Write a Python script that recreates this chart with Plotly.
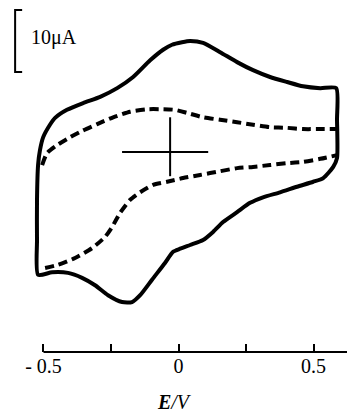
import plotly.graph_objects as go

# Solid cyclic voltammogram (E in V, I in microampere)
solid_E = [-0.520, -0.524, -0.524, -0.520, -0.513, -0.501, -0.476, -0.457, -0.413, -0.353,
           -0.290, -0.227, -0.168, -0.105, -0.057, -0.024, 0.013, 0.043, 0.091, 0.154,
           0.217, 0.276, 0.339, 0.402, 0.461, 0.525, 0.584, 0.587, 0.587, 0.573,
           0.536, 0.499, 0.439, 0.376, 0.313, 0.265, 0.217, 0.165, 0.128, 0.091,
           0.043, 0.006, -0.020, -0.050, -0.098, -0.142, -0.172, -0.209, -0.261, -0.309,
           -0.357, -0.409, -0.468, -0.520]
solid_I = [-19.8, -14.2, -7.7, -2.1, 0.3, 2.4, 4.4, 5.5, 6.8, 7.9,
           8.9, 10.3, 12.1, 14.8, 16.5, 17.3, 17.7, 17.9, 17.6, 16.1,
           14.5, 13.2, 12.1, 11.3, 10.6, 10.3, 10.3, 5.2, -1.0, -2.4,
           -4.2, -4.8, -5.6, -6.5, -7.3, -8.2, -9.7, -11.3, -12.9, -14.2,
           -15.0, -15.6, -16.1, -17.9, -20.6, -23.1, -24.2, -24.2, -23.1, -21.5,
           -20.3, -19.5, -19.4, -19.8]

# Dashed voltammogram, upper and lower branches
dash_up_E = [-0.505, -0.487, -0.450, -0.401, -0.357, -0.301, -0.242, -0.179, -0.116, -0.057,
             -0.013, 0.032, 0.091, 0.154, 0.217, 0.276, 0.339, 0.402, 0.461, 0.525, 0.587]
dash_up_I = [-2.1, -0.2, 1.1, 2.4, 3.4, 4.5, 5.6, 6.5, 6.9, 6.9,
             6.8, 6.3, 5.6, 5.2, 4.8, 4.4, 4.0, 3.9, 3.7, 3.7, 3.7]
dash_lo_E = [-0.494, -0.446, -0.383, -0.320, -0.272, -0.246, -0.216, -0.179, -0.142, -0.094,
             -0.042, 0.017, 0.080, 0.154, 0.217, 0.276, 0.339, 0.402, 0.461, 0.525, 0.587]
dash_lo_I = [-18.7, -18.2, -17.1, -15.5, -13.7, -12.1, -9.8, -7.7, -6.5, -5.3,
             -4.8, -4.2, -3.7, -3.1, -2.6, -2.4, -2.1, -1.8, -1.6, -1.1, -0.5]

# Zero-current cross
cross_E = [-0.209, 0.110, None, -0.031, -0.031]
cross_I = [0.0, 0.0, None, 5.6, -3.9]

# Scale bar (10 uA)
bar_E = [-0.579, -0.605, -0.605, -0.579]
bar_I = [22.9, 22.9, 12.9, 12.9]
bar_label = "10μA"

tick_vals = [-0.5, -0.25, 0, 0.25, 0.5]
tick_text = ["- 0.5", "", "0", "", "0.5"]
x_label = "<i><b>E</b>/V</i>"

x_range = [-0.661, 0.624]
y_range = [-42.1, 24.52]
axis_I = -32.26

FONT = "Liberation Serif"

fig = go.Figure()
fig.add_trace(go.Scatter(x=solid_E, y=solid_I, mode="lines",
                         line=dict(color="black", width=4, shape="spline", smoothing=0.6),
                         hoverinfo="skip"))
fig.add_trace(go.Scatter(x=dash_up_E, y=dash_up_I, mode="lines",
                         line=dict(color="black", width=4, dash="9px,5px", shape="spline", smoothing=0.6),
                         hoverinfo="skip"))
fig.add_trace(go.Scatter(x=dash_lo_E, y=dash_lo_I, mode="lines",
                         line=dict(color="black", width=4, dash="9px,5px", shape="spline", smoothing=0.6),
                         hoverinfo="skip"))
fig.add_trace(go.Scatter(x=cross_E, y=cross_I, mode="lines",
                         line=dict(color="black", width=2), hoverinfo="skip"))
fig.add_trace(go.Scatter(x=bar_E, y=bar_I, mode="lines",
                         line=dict(color="black", width=2), hoverinfo="skip"))

fig.add_annotation(x=-0.553, y=(bar_I[0] + bar_I[2]) / 2 + 0.6, text=bar_label, showarrow=False,
                   xanchor="left", yanchor="middle", font=dict(family=FONT, size=20, color="black"))

# axis baseline from -0.5 to right edge
fig.add_shape(type="line", x0=-0.5, x1=x_range[1], y0=axis_I, y1=axis_I,
              line=dict(color="black", width=2))

fig.update_layout(
    width=347, height=413,
    margin=dict(l=0, r=0, t=0, b=0),
    paper_bgcolor="white", plot_bgcolor="white",
    showlegend=False,
    xaxis=dict(range=x_range, showgrid=False, zeroline=False, showline=False,
               anchor="free", position=(axis_I - y_range[0]) / (y_range[1] - y_range[0]),
               tickmode="array", tickvals=tick_vals, ticktext=tick_text,
               ticks="inside", ticklen=8, tickwidth=2, tickcolor="black",
               tickfont=dict(family=FONT, size=20, color="black"),
               title=dict(text=x_label, font=dict(family=FONT, size=20, color="black"), standoff=20)),
    yaxis=dict(range=y_range, visible=False),
)

fig.write_html("out.html")
